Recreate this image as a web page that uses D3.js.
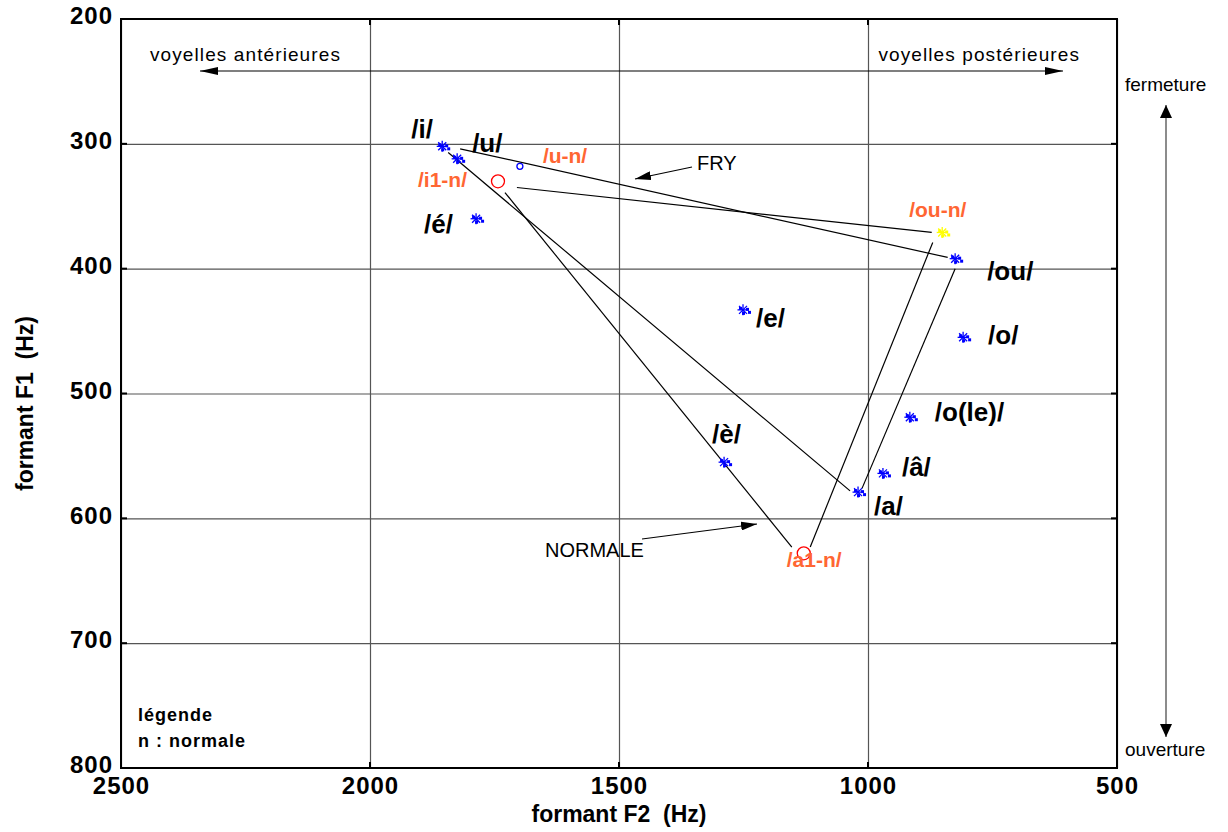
<!DOCTYPE html>
<html>
<head>
<meta charset="utf-8">
<script src="https://cdn.jsdelivr.net/npm/d3@7"></script>
<style>
  body { margin: 0; background: #fff; }
  text { font-family: "Liberation Sans", Arial, sans-serif; }
</style>
</head>
<body>
<script>
  // voyelles FRY : F2 / F1 en Hz
  const vowels = ["/i/", "/u/", "/é/", "/e/", "/è/", "/a/", "/â/", "/o(le)/", "/o/", "/ou/"]
  const vowelF2 = [1855, 1825, 1787, 1251, 1289, 1020, 970, 916, 809, 825]
  const vowelF1 = [302, 312, 360, 433, 555, 579, 564, 519, 455, 392]

  // voyelles normales
  const normVowels = ["/i1-n/", "/u-n/", "/ou-n/", "/a1-n/"]
  const normF2 = [1743, 1699, 851, 1129]
  const normF1 = [330, 318, 371, 628]
  const normMarker = ["circle", "dot", "star", "circle"]

  // triangles, segments [F2 début, F1 début, F2 fin, F1 fin]
  const fryLines = [[1819, 304, 840, 391], [1843, 307, 1036, 578], [825, 400, 1012, 576]]
  const normalLines = [[1729, 339, 1153, 623], [1705, 335, 872, 371], [870, 379, 1116, 623]]

  const xTicks = [2500, 2000, 1500, 1000, 500]
  const yTicks = [200, 300, 400, 500, 600, 700, 800]

  // décalage des étiquettes (px)
  const vowelLabelOff = {
    "/i/": [-31, -8], "/u/": [15, -7], "/é/": [-52, 14], "/e/": [13, 17], "/è/": [-12, -19],
    "/a/": [16, 23], "/â/": [19, 3], "/o(le)/": [25, 4], "/o/": [25, 7], "/ou/": [32, 21]
  }
  const normLabelOff = { "/i1-n/": [-80, 6], "/u-n/": [23, -3], "/ou-n/": [-33, -15], "/a1-n/": [-17, 14] }

  let w = 1228, h = 832
  let mLeft = 121, mRight = 1117, mTop = 19, mBottom = 768

  let x = d3.scaleLinear().domain([2500, 500]).range([mLeft, mRight])
  let y = d3.scaleLinear().domain([200, 800]).range([mTop, mBottom])

  let svg = d3.select("body").append("svg")
    .attr("width", w).attr("height", h)

  let defs = svg.append("defs")
  function arrowHead(id, len, half) {
    defs.append("marker")
      .attr("id", id)
      .attr("viewBox", `0 ${-half} ${len} ${half * 2}`)
      .attr("refX", len).attr("refY", 0)
      .attr("markerUnits", "userSpaceOnUse")
      .attr("markerWidth", len).attr("markerHeight", half * 2)
      .attr("orient", "auto-start-reverse")
      .append("path")
      .attr("d", `M0,${-half}L${len},0L0,${half}Z`)
      .attr("fill", "#000")
  }
  arrowHead("headH", 18, 4)
  arrowHead("headS", 16, 4.5)
  arrowHead("headV", 13, 6)

  // grille
  svg.append("g")
    .attr("transform", `translate(0,${mBottom})`)
    .call(d3.axisBottom(x).tickValues(xTicks).tickSize(-(mBottom - mTop)).tickFormat(""))
    .call(g => g.select(".domain").remove())
    .selectAll("line").attr("stroke", "#555").attr("stroke-width", 1.2)
  svg.append("g")
    .attr("transform", `translate(${mLeft},0)`)
    .call(d3.axisLeft(y).tickValues(yTicks).tickSize(-(mRight - mLeft)).tickFormat(""))
    .call(g => g.select(".domain").remove())
    .selectAll("line").attr("stroke", "#555").attr("stroke-width", 1.2)

  // petites graduations
  let tk = svg.append("g").attr("stroke", "#000").attr("stroke-width", 2)
  xTicks.forEach(v => {
    tk.append("line").attr("x1", x(v)).attr("x2", x(v)).attr("y1", mBottom).attr("y2", mBottom - 6)
    tk.append("line").attr("x1", x(v)).attr("x2", x(v)).attr("y1", mTop).attr("y2", mTop + 6)
  })
  yTicks.forEach(v => {
    tk.append("line").attr("x1", mLeft).attr("x2", mLeft + 6).attr("y1", y(v)).attr("y2", y(v))
    tk.append("line").attr("x1", mRight).attr("x2", mRight - 6).attr("y1", y(v)).attr("y2", y(v))
  })

  // cadre
  svg.append("rect")
    .attr("x", mLeft).attr("y", mTop)
    .attr("width", mRight - mLeft).attr("height", mBottom - mTop)
    .attr("fill", "none").attr("stroke", "#000").attr("stroke-width", 2)

  // étiquettes des axes
  let xAxis = svg.append("g")
    .attr("transform", `translate(0,${mBottom})`)
    .call(d3.axisBottom(x).tickValues(xTicks).tickFormat(d3.format("d")).tickSize(0).tickPadding(9))
  xAxis.select(".domain").remove()
  xAxis.selectAll("text")
    .attr("font-size", 24).attr("font-weight", "bold").attr("fill", "#000")
    .attr("font-family", "Liberation Sans, Arial, sans-serif").attr("letter-spacing", 1)

  let yAxis = svg.append("g")
    .attr("transform", `translate(${mLeft},0)`)
    .call(d3.axisLeft(y).tickValues(yTicks).tickFormat(d3.format("d")).tickSize(0).tickPadding(8))
  yAxis.select(".domain").remove()
  yAxis.selectAll("text")
    .attr("font-size", 24).attr("font-weight", "bold").attr("fill", "#000")
    .attr("font-family", "Liberation Sans, Arial, sans-serif").attr("letter-spacing", 1)
    .attr("dy", "0.2em")

  svg.append("text")
    .attr("x", (mLeft + mRight) / 2).attr("y", 822)
    .attr("text-anchor", "middle")
    .attr("font-size", 23).attr("font-weight", "bold")
    .attr("xml:space", "preserve")
    .text("formant F2  (Hz)")
  svg.append("text")
    .attr("transform", `translate(33,${(mTop + mBottom) / 2 + 10}) rotate(-90)`)
    .attr("text-anchor", "middle")
    .attr("font-size", 23).attr("font-weight", "bold")
    .attr("xml:space", "preserve")
    .text("formant F1  (Hz)")

  // triangles
  function drawSeg(list) {
    svg.append("g").selectAll("line").data(list).join("line")
      .attr("x1", d => x(d[0])).attr("y1", d => y(d[1]))
      .attr("x2", d => x(d[2])).attr("y2", d => y(d[3]))
      .attr("stroke", "#000").attr("stroke-width", 1.2)
  }
  drawSeg(fryLines)
  drawSeg(normalLines)

  // marqueur étoile
  function star(g, cx, cy, color) {
    let s = g.append("g").attr("transform", `translate(${cx},${cy})`)
      .attr("stroke", color).attr("stroke-width", 1.3)
    let r = 5.5, q = 4
    s.append("line").attr("x1", -r).attr("x2", r).attr("y1", 0).attr("y2", 0)
    s.append("line").attr("x1", 0).attr("x2", 0).attr("y1", -r).attr("y2", r)
    s.append("line").attr("x1", -q).attr("x2", q).attr("y1", -q).attr("y2", q)
    s.append("line").attr("x1", -q).attr("x2", q).attr("y1", q).attr("y2", -q)
    let sq = [[3, -2], [-1, 2], [5, 1], [-4, -3]]
    sq.forEach(p => s.append("rect").attr("x", p[0]).attr("y", p[1])
      .attr("width", 3).attr("height", 3).attr("fill", color).attr("stroke", "none"))
  }

  let pts = svg.append("g")
  vowels.forEach((v, i) => star(pts, x(vowelF2[i]), y(vowelF1[i]), "#0000ff"))

  normVowels.forEach((v, i) => {
    let cx = x(normF2[i]), cy = y(normF1[i])
    if (normMarker[i] == "circle") {
      pts.append("circle").attr("cx", cx).attr("cy", cy).attr("r", 6.5)
        .attr("fill", "none").attr("stroke", "#ff0000").attr("stroke-width", 1.3)
    } else if (normMarker[i] == "dot") {
      pts.append("circle").attr("cx", cx).attr("cy", cy).attr("r", 3)
        .attr("fill", "none").attr("stroke", "#0000ff").attr("stroke-width", 1.3)
    } else {
      star(pts, cx, cy, "#ffff00")
    }
  })

  // étiquettes des voyelles
  svg.append("g").selectAll("text").data(vowels).join("text")
    .attr("x", (d, i) => x(vowelF2[i]) + vowelLabelOff[d][0])
    .attr("y", (d, i) => y(vowelF1[i]) + vowelLabelOff[d][1])
    .attr("font-size", 26).attr("font-weight", "bold")
    .attr("fill", "#000")
    .text(d => d)

  svg.append("g").selectAll("text").data(normVowels).join("text")
    .attr("x", (d, i) => x(normF2[i]) + normLabelOff[d][0])
    .attr("y", (d, i) => y(normF1[i]) + normLabelOff[d][1])
    .attr("font-size", 21).attr("font-weight", "bold")
    .attr("fill", "#ff6633")
    .text(d => d)

  // annotations
  svg.append("line")
    .attr("x1", 1063).attr("y1", 71).attr("x2", 200).attr("y2", 71)
    .attr("stroke", "#000").attr("stroke-width", 1.2)
    .attr("marker-start", "url(#headH)").attr("marker-end", "url(#headH)")
  svg.append("text").attr("x", 150).attr("y", 61)
    .attr("font-size", 19).attr("letter-spacing", 1.1).text("voyelles antérieures")
  svg.append("text").attr("x", 1080).attr("y", 61).attr("text-anchor", "end")
    .attr("font-size", 19).attr("letter-spacing", 1.1).text("voyelles postérieures")

  svg.append("line")
    .attr("x1", 692).attr("y1", 167).attr("x2", 635).attr("y2", 179)
    .attr("stroke", "#000").attr("stroke-width", 1.2).attr("marker-end", "url(#headS)")
  svg.append("text").attr("x", 697).attr("y", 170).attr("font-size", 20).text("FRY")

  svg.append("line")
    .attr("x1", 642).attr("y1", 539).attr("x2", 757).attr("y2", 524)
    .attr("stroke", "#000").attr("stroke-width", 1.2).attr("marker-end", "url(#headS)")
  svg.append("text").attr("x", 545).attr("y", 557).attr("font-size", 20).text("NORMALE")

  svg.append("line")
    .attr("x1", 1166).attr("y1", 737).attr("x2", 1166).attr("y2", 105)
    .attr("stroke", "#666").attr("stroke-width", 1.5)
    .attr("marker-start", "url(#headV)").attr("marker-end", "url(#headV)")
  svg.append("text").attr("x", 1125).attr("y", 91).attr("font-size", 19).text("fermeture")
  svg.append("text").attr("x", 1125).attr("y", 756).attr("font-size", 19).text("ouverture")

  svg.append("text").attr("x", 138).attr("y", 721)
    .attr("font-size", 18).attr("font-weight", "bold").attr("letter-spacing", 1).text("légende")
  svg.append("text").attr("x", 138).attr("y", 747)
    .attr("font-size", 18).attr("font-weight", "bold").attr("letter-spacing", 1)
    .attr("xml:space", "preserve").text("n : normale")
</script>
</body>
</html>
